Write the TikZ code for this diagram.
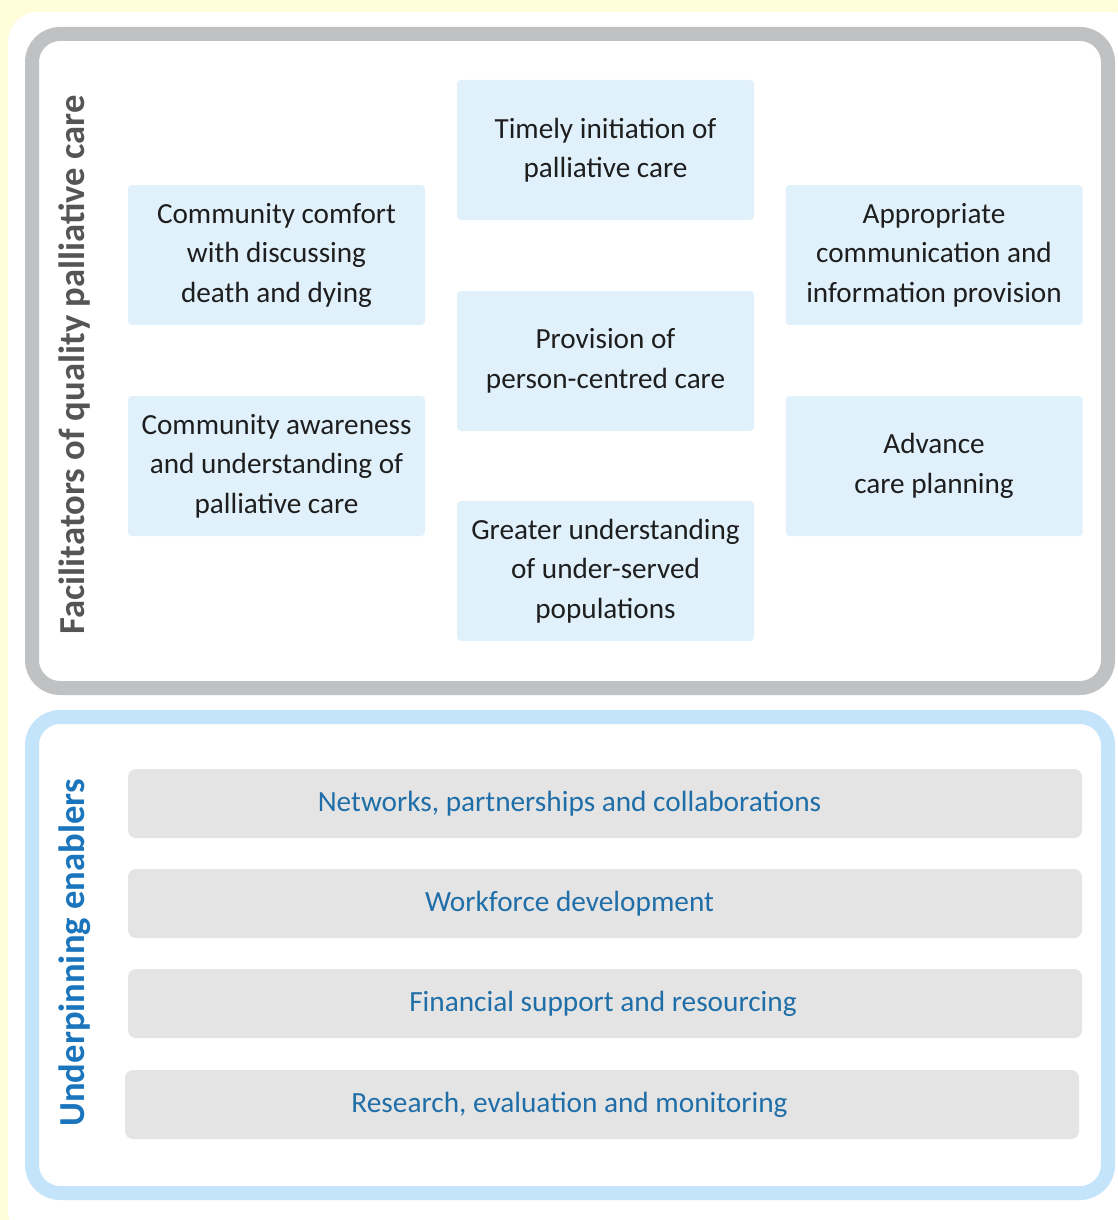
\documentclass[tikz,border=0pt]{standalone}
\usepackage{fontspec}
\setmainfont{Carlito}
\definecolor{bgyellow}{HTML}{FFFDD9}
\definecolor{framegray}{HTML}{C0C1C3}
\definecolor{frameblue}{HTML}{C3E4FB}
\definecolor{lightblue}{HTML}{E1F1FC}
\definecolor{enablergray}{HTML}{E4E4E4}
\definecolor{textdark}{HTML}{1E1E1E}
\definecolor{titlegray}{HTML}{555555}
\definecolor{titleblue}{HTML}{1B75BC}
\definecolor{enablertext}{HTML}{1F6EA8}
\begin{document}
\begin{tikzpicture}[x=1pt,y=-1pt,
  lbox/.style={fill=lightblue, rounded corners=4pt, minimum width=297, minimum height=140,
    align=center, inner sep=2pt, font=\fontsize{29.2}{39.5}\selectfont, text=textdark},
  gbox/.style={fill=enablergray, rounded corners=8pt, minimum width=954, minimum height=69, inner sep=0pt},
  glabel/.style={font=\fontsize{29.3}{34}\selectfont, text=enablertext, inner sep=0pt},
  frame/.style={line width=14pt, rounded corners=28pt},
  sidetitle/.style={rotate=90, font=\bfseries\fontsize{36.6}{42}\selectfont, inner sep=0pt}]
\useasboundingbox (0,0) rectangle (1118,1220);
\fill[bgyellow] (0,0) rectangle (1118,1220);
\fill[white, rounded corners=30pt] (8,12) rectangle (1140,1240);
\draw[frame, framegray] (32,34) rectangle (1108,688);
\draw[frame, frameblue] (32,717) rectangle (1108,1193);

\node[sidetitle, text=titlegray] (ftitle) at (75,365) {Facilitators of quality palliative care};
\node[sidetitle, text=titleblue] (etitle) at (75,953) {Underpinning enablers};

\node[lbox] (comfort) at (276.5,255) {Community comfort\\with discussing\\death and dying};
\node[lbox] (aware) at (276.5,466) {Community awareness\\and understanding of\\palliative care};
\node[lbox] (timely) at (605.5,150) {Timely initiation of\\palliative care};
\node[lbox] (person) at (605.5,361) {Provision of\\person-centred care};
\node[lbox] (under) at (605.5,571) {Greater understanding\\of under-served\\populations};
\node[lbox] (comm) at (934,255) {Appropriate\\communication and\\information provision};
\node[lbox] (acp) at (934,466) {Advance\\care planning};

\node[gbox] (netbox) at (605,803.5) {};
\node[gbox] (wfbox) at (605,903.5) {};
\node[gbox] (finbox) at (605,1003.5) {};
\node[gbox] (resbox) at (602,1104.5) {};
\node[glabel] (net) at (569.5,803.5) {Networks, partnerships and collaborations};
\node[glabel] (wf) at (569.5,903.5) {Workforce development};
\node[glabel] (fin) at (603,1003.5) {Financial support and resourcing};
\node[glabel] (res) at (569.5,1104.5) {Research, evaluation and monitoring};
\end{tikzpicture}
\end{document}
